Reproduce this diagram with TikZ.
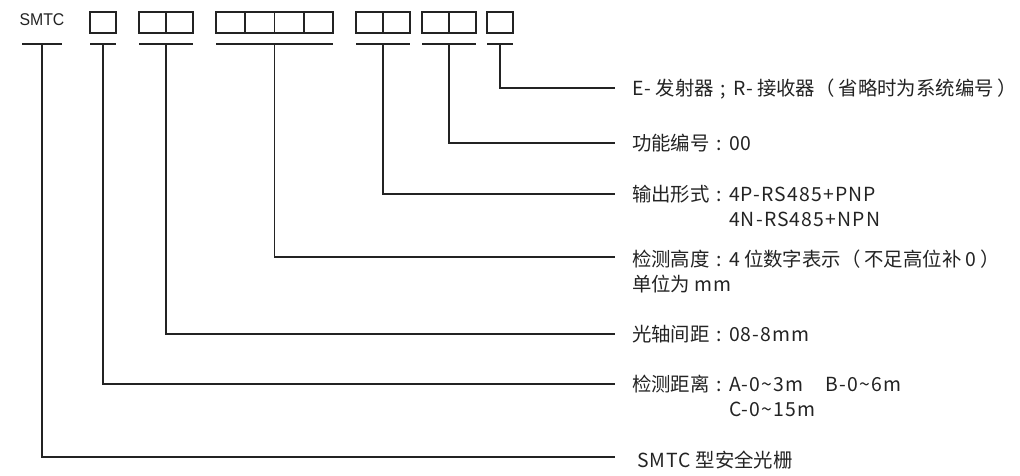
\documentclass[tikz,border=0pt]{standalone}
\usepackage{fontspec}
\newfontfamily\cjk{Noto Sans CJK SC}
\newfontfamily\arialf{Liberation Sans}
\definecolor{ink}{RGB}{35,35,35}
\tikzset{
  box/.style={draw=ink, line width=1.7pt, minimum height=21pt, inner sep=0pt, outer sep=0pt, anchor=north west},
  conn/.style={draw=ink, line width=1.1pt},
  uline/.style={draw=ink, line width=1.5pt},
  lab/.style={anchor=base west, inner sep=0pt, outer sep=0pt, text=ink, font=\cjk\fontsize{19.4}{25.5}\selectfont},
}
\newcommand{\tl}[1]{\begin{tabular}[t]{@{}l@{}}#1\end{tabular}}
\newcommand{\ls}[1]{{\addfontfeature{LetterSpace=6}#1}}
\newcommand{\colonc}{\makebox[1em][c]{:}}
\newcommand{\semic}{\makebox[1em][c]{;}}
\newcommand{\lp}{（\hspace{4pt}}
\newcommand{\rp}{\hspace{4pt}）}
\begin{document}
\begin{tikzpicture}[x=1pt,y=-1pt]
\useasboundingbox (0,0) rectangle (1020,475);
% code header
\node[text=ink, font=\arialf\fontsize{17}{17}\selectfont, inner sep=0pt, xscale=0.93] (smtc) at (42,19.5) {SMTC};
\node[box, minimum width=26pt] (b1) at (90,12) {};
\node[box, minimum width=27pt] (b2) at (139,12) {};
\node[box, minimum width=27pt] (b3) at (166,12) {};
\node[box, minimum width=29.25pt] (b4) at (216,12) {};
\node[box, minimum width=29.25pt] (b5) at (245.25,12) {};
\node[box, minimum width=29.25pt] (b6) at (274.5,12) {};
\node[box, minimum width=29.25pt] (b7) at (303.75,12) {};
\node[box, minimum width=27pt] (b8) at (356,12) {};
\node[box, minimum width=27pt] (b9) at (383,12) {};
\node[box, minimum width=27pt] (b10) at (422,12) {};
\node[box, minimum width=27pt] (b11) at (449,12) {};
\node[box, minimum width=26pt] (b12) at (487,12) {};
% underlines
\draw[uline] (22,44) -- (62,44);
\draw[uline] ([yshift=-11pt]b1.south west) -- ([yshift=-11pt]b1.south east);
\draw[uline] ([yshift=-11pt]b2.south west) -- ([yshift=-11pt]b3.south east);
\draw[uline] ([yshift=-11pt]b4.south west) -- ([yshift=-11pt]b7.south east);
\draw[uline] ([yshift=-11pt]b8.south west) -- ([yshift=-11pt]b9.south east);
\draw[uline] ([yshift=-11pt]b10.south west) -- ([yshift=-11pt]b11.south east);
\draw[uline] ([yshift=-11pt]b12.south west) -- ([yshift=-11pt]b12.south east);
% connector start points
\coordinate (u0) at (42,44);
\coordinate (u1) at ([yshift=-11pt]b1.south);
\coordinate (u2) at ([yshift=-11pt]b2.south east);
\coordinate (u3) at ([yshift=-11pt]b5.south east);
\coordinate (u4) at ([yshift=-11pt]b8.south east);
\coordinate (u5) at ([yshift=-11pt]b10.south east);
\coordinate (u6) at ([yshift=-11pt]b12.south);
% connector ends
\coordinate (e6) at (615,88);
\coordinate (e5) at (615,143);
\coordinate (e4) at (615,194);
\coordinate (e3) at (615,257);
\coordinate (e2) at (615,334);
\coordinate (e1) at (615,384);
\coordinate (e0) at (615,457);
% labels
\node[lab] (l6) at (632,95) {\ls{E-} 发射器\semic\ls{R-} 接收器\lp 省略时为系统编号\rp};
\node[lab] (l5) at (632,150) {功能编号\colonc\ls{00}};
\node[lab] (l4) at (632,201) {\tl{输出形式\colonc\ls{4P-RS485+PNP}\\\phantom{输出形式\colonc}\ls{4N-RS485+NPN}}};
\node[lab] (l3) at (632,266) {\tl{检测高度\colonc\ls{4} 位数字表示\lp 不足高位补 \ls{0}\rp\\单位为 \ls{mm}}};
\node[lab] (l2) at (632,341) {光轴间距\colonc\ls{08-8mm}};
\node[lab] (l1) at (632,391) {\tl{检测距离\colonc\ls{A-0\textasciitilde3m}\hspace{22pt}\ls{B-0\textasciitilde6m}\\\phantom{检测距离\colonc}\ls{C-0\textasciitilde15m}}};
\node[lab] (l0) at (637,467) {\ls{SMTC} 型安全光栅};
% connectors
\foreach \i in {0,...,6} { \draw[conn] (u\i) |- (e\i); }
\end{tikzpicture}
\end{document}
